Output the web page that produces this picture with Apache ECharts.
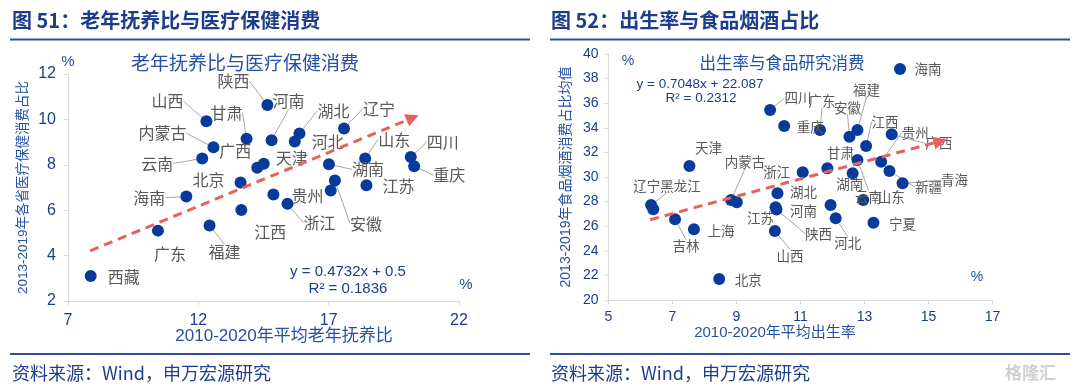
<!DOCTYPE html>
<html><head><meta charset="utf-8">
<script src="https://cdn.jsdelivr.net/npm/echarts@6/dist/echarts.min.js"></script>
<style>html,body{margin:0;padding:0;background:#fff}#c{width:1080px;height:392px}</style>
</head><body><div id="c"></div>
<script>
// ---------- data (left: 老年抚养比 vs 医疗保健消费占比) ----------
const leftNames = ['西藏','广东','福建','江西','海南','北京','云南','内蒙古','广西','山西','甘肃','陕西','河南','湖北','河北','辽宁','天津','湖南','山东','四川','重庆','江苏','贵州','浙江','安徽',''];
const leftX = [7.87,10.45,12.43,13.65,11.54,13.62,12.15,12.58,14.26,12.31,13.85,14.65,14.81,15.88,15.70,17.59,14.51,17.01,18.40,20.15,20.28,18.45,14.88,15.42,17.24,17.08];
const leftY = [3.10,5.10,5.33,6.01,6.60,7.22,8.28,8.77,7.87,9.92,9.15,10.63,9.08,9.38,9.03,9.60,8.05,8.02,8.28,8.34,7.94,7.10,6.69,6.28,7.31,6.87];
const leftTrend = [[7.85,4.21],[20.22,10.07]];
const leftXTicks = [7,12,17,22];
const leftYTicks = [2,4,6,8,10,12];

// ---------- data (right: 出生率 vs 食品烟酒消费占比) ----------
const rightNames = ['海南','四川','重庆','广东','安徽','福建','江西','广西','贵州','新疆','青海','云南','湖南','甘肃','山东','浙江','湖北','江苏','陕西','山西','河南','河北','宁夏','天津','内蒙古','','辽宁','黑龙江','吉林','上海','北京'];
const rightX = [14.11,10.05,10.49,11.61,12.53,12.78,13.05,13.85,13.52,13.78,14.19,12.78,12.63,11.84,12.96,11.07,10.28,10.22,10.25,10.20,11.94,12.10,13.28,7.53,8.83,9.01,6.33,6.40,7.08,7.67,8.46];
const rightY = [38.78,35.45,34.15,33.82,33.28,33.82,32.52,33.47,31.24,30.49,29.49,31.38,30.30,30.71,28.13,30.38,28.67,27.54,27.36,25.61,27.72,26.64,26.28,30.89,28.13,27.94,27.72,27.37,26.56,25.75,21.71];
const rightTrend = [[6.30,26.53],[15.36,32.91]];
const rightXTicks = [5,7,9,11,13,15,17];
const rightYTicks = [20,22,24,26,28,30,32,34,36,38,40];

// ---------- label placement (pixel offsets from point, styling only) ----------
const leftLabelPos = {'西藏':[33,1],'广东':[12,23],'福建':[15,27,1],'江西':[29,22],'海南':[-37,1,1],'北京':[-32,-3],'云南':[-45,5,1],'内蒙古':[-51,-14,1],'广西':[-22,-17],'山西':[-39,-20,1],'甘肃':[-20,-26,1],'陕西':[-34,-24,1],'河南':[17,-39,1],'湖北':[34,-23,1],'河北':[33,1],'辽宁':[35,-20,1],'天津':[28,-6],'湖南':[39,5,1],'山东':[29,-19,1],'四川':[32,-15,1],'重庆':[35,9,1],'江苏':[32,1],'贵州':[34,1],'浙江':[32,19,1],'安徽':[31,43,1]};
const rightLabelPos = {'海南':[28,0],'四川':[28,-12,1],'重庆':[26,1],'广东':[2,-29,1],'安徽':[-2,-29,1],'福建':[9,-40,1],'江西':[19,-24,1],'广西':[47,9,1],'贵州':[34,-29,1],'新疆':[39,16,1],'青海':[52,-3,1],'云南':[11,37,1],'湖南':[-3,11],'甘肃':[13,-15],'山东':[28,-3],'浙江':[-26,0],'湖北':[26,-1],'江苏':[-15,11],'陕西':[42,24,1],'山西':[15,25,1],'河南':[-27,6],'河北':[12,25,1],'宁夏':[29,1],'天津':[19,-18],'内蒙古':[14,-38,1],'辽宁':[16,-19,1],'吉林':[11,27,1],'上海':[27,2],'北京':[29,1]};
const rightLabelText = {'辽宁':'辽宁黑龙江'};

const NAVY = '#1d3d8c', BLUE = '#2451a3', DOT = '#063b9c', RED = '#e8615c', GRAY = '#595959';
const FONT = '"Liberation Sans","Noto Sans CJK SC",sans-serif';
const CJK = '"Noto Sans CJK SC","Liberation Sans",sans-serif';

function buildData(names, xs, ys, pos, textMap) {
  return names.map((n, i) => {
    const p = pos[n];
    return {
      name: n, value: [xs[i], ys[i]],
      label: {show: !!p, formatter: (textMap && textMap[n]) || n},
      labelLine: {show: !!(p && p[2])}
    };
  });
}
function layoutFn(names, pos) {
  return function (params) {
    const p = pos[names[params.dataIndex]];
    if (!p) return {};
    return {dx: p[0], dy: p[1]};
  };
}
function axisCommon(min, max, interval, fs, margin) {
  return {
    min: min, max: max, interval: interval,
    axisLine: {show: true, lineStyle: {color: '#d9d9d9', width: 1}},
    axisTick: {show: true, length: 4, lineStyle: {color: '#d9d9d9'}},
    splitLine: {show: false},
    axisLabel: {color: NAVY, fontSize: fs, fontFamily: FONT, margin: margin}
  };
}
function scatterSeries(idx, names, xs, ys, pos, textMap, fs, trend) {
  return {
    type: 'scatter', xAxisIndex: idx, yAxisIndex: idx,
    symbolSize: 12, itemStyle: {color: DOT, opacity: 1},
    data: buildData(names, xs, ys, pos, textMap),
    label: {position: 'inside', color: GRAY, fontSize: fs, fontFamily: CJK},
    labelLine: {lineStyle: {color: '#a6a6a6', width: 1}},
    labelLayout: layoutFn(names, pos),
    emphasis: {disabled: true},
    z: 3,
    markLine: {
      silent: true, symbol: ['none', 'triangle'], symbolSize: [13, 13],
      lineStyle: {color: RED, type: [9, 6], width: 3, opacity: 1},
      label: {show: false},
      data: [[{coord: trend[0]}, {coord: trend[1]}]]
    }
  };
}

const chart = echarts.init(document.getElementById('c'), null, {renderer: 'canvas'});
chart.setOption({
  animation: false,
  grid: [
    {left: 68, top: 74, width: 391, height: 227},
    {left: 608.5, top: 54, width: 384, height: 246}
  ],
  xAxis: [
    Object.assign({type: 'value', gridIndex: 0}, axisCommon(leftXTicks[0], leftXTicks[leftXTicks.length-1], leftXTicks[1]-leftXTicks[0], 16, 12)),
    Object.assign({type: 'value', gridIndex: 1}, axisCommon(rightXTicks[0], rightXTicks[rightXTicks.length-1], rightXTicks[1]-rightXTicks[0], 14, 10))
  ],
  yAxis: [
    Object.assign({type: 'value', gridIndex: 0,
      name: '2013-2019年各省医疗保健消费占比', nameLocation: 'middle', nameGap: 38, nameRotate: 90,
      nameTextStyle: {color: BLUE, fontSize: 13.5, fontFamily: FONT}}, axisCommon(leftYTicks[0], leftYTicks[leftYTicks.length-1], leftYTicks[1]-leftYTicks[0], 16, 12)),
    Object.assign({type: 'value', gridIndex: 1,
      name: '2013-2019年食品烟酒消费占比均值', nameLocation: 'middle', nameGap: 35, nameRotate: 90,
      nameTextStyle: {color: BLUE, fontSize: 14, fontFamily: FONT}}, axisCommon(rightYTicks[0], rightYTicks[rightYTicks.length-1], rightYTicks[1]-rightYTicks[0], 14, 10))
  ],
  series: [
    scatterSeries(0, leftNames, leftX, leftY, leftLabelPos, null, 16, leftTrend),
    scatterSeries(1, rightNames, rightX, rightY, rightLabelPos, rightLabelText, 13.5, rightTrend)
  ],
  graphic: [
    {type: 'text', left: 12, top: 10, style: {text: '图 51：老年抚养比与医疗保健消费', font: 'bold 20px ' + CJK, fill: NAVY}},
    {type: 'text', left: 551, top: 10, style: {text: '图 52：出生率与食品烟酒占比', font: 'bold 20px ' + CJK, fill: NAVY}},
    {type: 'line', shape: {x1: 10, y1: 39.5, x2: 530, y2: 39.5}, style: {stroke: '#2b4c99', lineWidth: 2}},
    {type: 'line', shape: {x1: 550, y1: 39.5, x2: 1070, y2: 39.5}, style: {stroke: '#2b4c99', lineWidth: 2}},
    {type: 'line', shape: {x1: 10, y1: 354, x2: 530, y2: 354}, style: {stroke: '#2b4c99', lineWidth: 2}},
    {type: 'line', shape: {x1: 550, y1: 354, x2: 1070, y2: 354}, style: {stroke: '#2b4c99', lineWidth: 2}},
    {type: 'text', left: 12, top: 364, style: {text: '资料来源：Wind，申万宏源研究', font: '18px ' + CJK, fill: NAVY}},
    {type: 'text', left: 551, top: 364, style: {text: '资料来源：Wind，申万宏源研究', font: '18px ' + CJK, fill: NAVY}},
    {type: 'text', left: 1005, top: 364, style: {text: '格隆汇', font: 'bold 17px ' + CJK, fill: '#d0d0d0'}},
    // inner titles
    {type: 'text', x: 245, y: 63, style: {text: '老年抚养比与医疗保健消费', font: '19px ' + CJK, fill: BLUE, align: 'center', verticalAlign: 'middle'}},
    {type: 'text', x: 782, y: 63, style: {text: '出生率与食品研究消费', font: '16.5px ' + CJK, fill: BLUE, align: 'center', verticalAlign: 'middle'}},
    // units
    {type: 'text', x: 68, y: 62, style: {text: '%', font: '15px ' + FONT, fill: BLUE, align: 'center', verticalAlign: 'middle'}},
    {type: 'text', x: 466, y: 285, style: {text: '%', font: '15px ' + FONT, fill: BLUE, align: 'center', verticalAlign: 'middle'}},
    {type: 'text', x: 628, y: 61, style: {text: '%', font: '14px ' + FONT, fill: BLUE, align: 'center', verticalAlign: 'middle'}},
    {type: 'text', x: 977, y: 277, style: {text: '%', font: '14px ' + FONT, fill: BLUE, align: 'center', verticalAlign: 'middle'}},
    // x axis names
    {type: 'text', x: 284, y: 336, style: {text: '2010-2020年平均老年抚养比', font: '17px ' + FONT, fill: BLUE, align: 'center', verticalAlign: 'middle'}},
    {type: 'text', x: 775, y: 333, style: {text: '2010-2020年平均出生率', font: '15px ' + FONT, fill: BLUE, align: 'center', verticalAlign: 'middle'}},
    // regression equations
    {type: 'text', x: 348, y: 272, style: {text: 'y = 0.4732x + 0.5', font: '15px ' + FONT, fill: NAVY, align: 'center', verticalAlign: 'middle'}},
    {type: 'text', x: 348, y: 289, style: {text: 'R² = 0.1836', font: '15px ' + FONT, fill: NAVY, align: 'center', verticalAlign: 'middle'}},
    {type: 'text', x: 700, y: 84, style: {text: 'y = 0.7048x + 22.087', font: '13.5px ' + FONT, fill: NAVY, align: 'center', verticalAlign: 'middle'}},
    {type: 'text', x: 701, y: 98.5, style: {text: 'R² = 0.2312', font: '13.5px ' + FONT, fill: NAVY, align: 'center', verticalAlign: 'middle'}}
  ]
});
</script></body></html>
